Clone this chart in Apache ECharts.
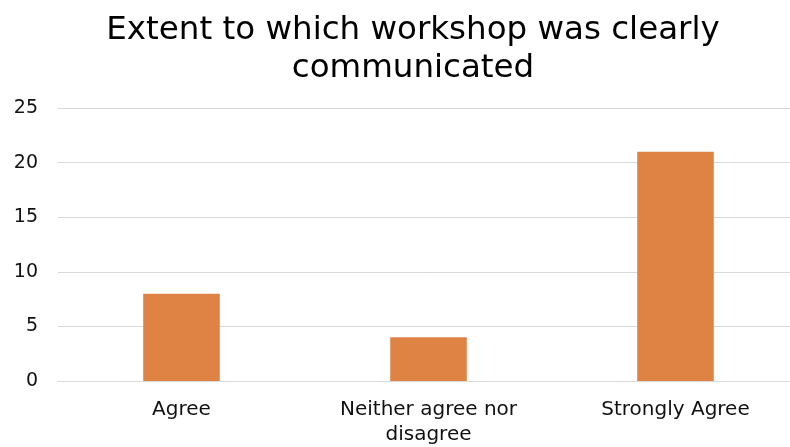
<!DOCTYPE html>
<html>
<head>
<meta charset="utf-8">
<script src="https://cdn.jsdelivr.net/npm/echarts@6/dist/echarts.min.js"></script>
<style>
  html, body { margin: 0; padding: 0; background: #fff; overflow: hidden; }
  /* the drawing surface is a little wider than the window so the plot area runs off the right edge */
  #chart { width: 799px; height: 447px; }
</style>
</head>
<body>
<div id="chart"></div>
<script>
// Survey responses: how clearly the workshop was communicated
const categories = ['Agree', 'Neither agree nor\ndisagree', 'Strongly Agree'];
const responses = [8, 4, 21];
const yTicks = { min: 0, max: 25, interval: 5 };

const chart = echarts.init(document.getElementById('chart'), null, { renderer: 'canvas' });
const font = 'Verdana, "DejaVu Sans", sans-serif';

chart.setOption({
  animation: false,
  backgroundColor: '#ffffff',
  title: {
    text: 'Extent to which workshop was clearly\ncommunicated',
    left: 408,
    top: 7,
    textAlign: 'center',
    textStyle: {
      fontFamily: font,
      fontSize: 32.5,
      fontWeight: 'normal',
      color: '#000000',
      lineHeight: 38
    }
  },
  grid: {
    left: 58,
    right: 0,
    top: 108,
    bottom: 61,
    containLabel: false
  },
  xAxis: {
    type: 'category',
    data: categories,
    axisLine: { show: true, lineStyle: { color: '#d9d9d9', width: 1 } },
    axisTick: { show: false },
    axisLabel: {
      fontFamily: font,
      fontSize: 20,
      color: '#111111',
      margin: 16,
      lineHeight: 25,
      interval: 0
    }
  },
  yAxis: {
    type: 'value',
    min: yTicks.min,
    max: yTicks.max,
    interval: yTicks.interval,
    axisLine: { show: false },
    axisTick: { show: false },
    splitLine: { lineStyle: { color: '#d9d9d9', width: 1 } },
    axisLabel: {
      fontFamily: font,
      fontSize: 19,
      color: '#111111',
      margin: 20
    }
  },
  series: [{
    type: 'bar',
    data: responses,
    barWidth: '31%',
    itemStyle: { color: '#df8344' }
  }]
});
</script>
</body>
</html>
